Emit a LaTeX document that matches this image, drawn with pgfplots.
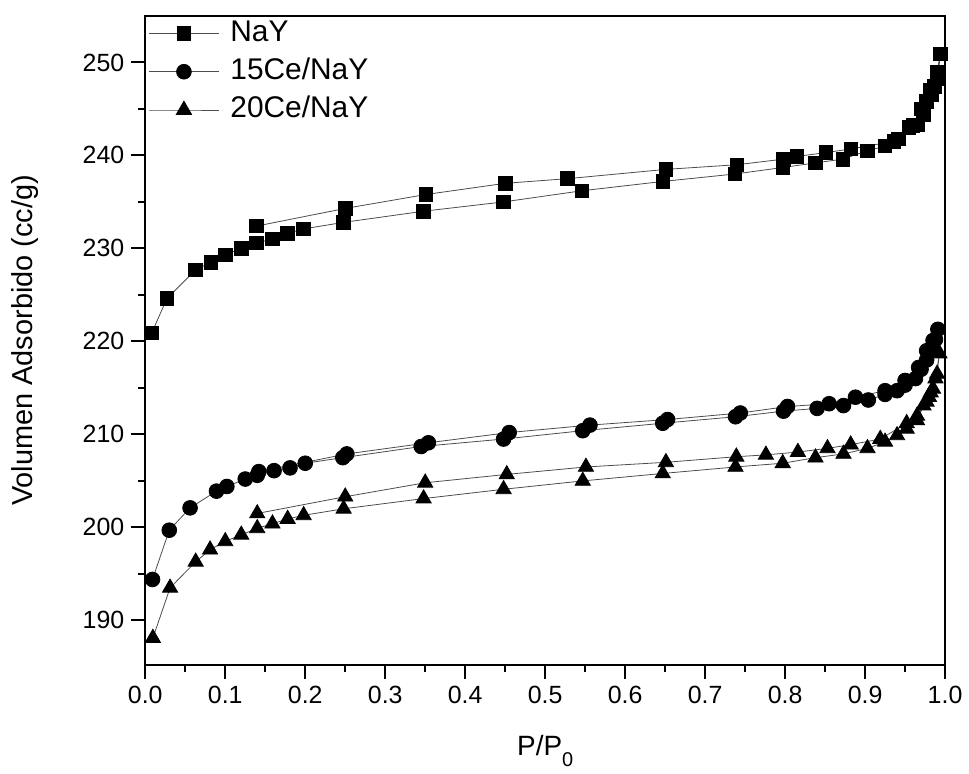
\documentclass[border=0pt]{standalone}
\usepackage{fontspec}
\setmainfont{Liberation Sans}
\usepackage{pgfplots}
\pgfplotsset{compat=1.18}
\begin{document}
\begin{tikzpicture}
\begin{axis}[
  scale only axis, width=401.3pt, height=325.7pt,
  xmin=0, xmax=1, ymin=185.2, ymax=255,
  xtick={0,0.1,0.2,0.3,0.4,0.5,0.6,0.7,0.8,0.9,1.0},
  ytick={190,200,210,220,230,240,250},
  minor x tick num=1, minor y tick num=1,
  tick align=outside, xtick pos=left, ytick pos=left,
  major tick length=7pt, minor tick length=3.5pt,
  axis line style={line width=1pt},
  every tick/.style={line width=1pt, black},
  /pgf/number format/assume math mode=true,
  x tick label style={/pgf/number format/.cd, fixed, fixed zerofill, precision=1},
  tick label style={font=\fontsize{12.5}{15}\selectfont},
  xlabel={P/P\raisebox{-0.75ex}{\fontsize{10}{10}\selectfont 0}},
  ylabel={Volumen Adsorbido (cc/g)},
  xlabel style={at={(axis description cs:0.5,0)}, anchor=base, yshift=-45.5pt, font=\fontsize{14}{16}\selectfont},
  ylabel style={at={(axis description cs:-0.15,0.5)}, anchor=center, rotate=0, font=\fontsize{14.5}{16}\selectfont},
  legend style={at={(axis description cs:0,1)}, xshift=1.5pt, anchor=north west, draw=none, fill=none,
    inner sep=0pt, font=\fontsize{15}{18}\selectfont, row sep=2pt,
    nodes={text height=11pt, text depth=3pt, inner sep=1.6pt}},
  legend cell align=left,
  legend image code/.code={\draw[mark repeat=2,mark phase=2] plot coordinates {(0pt,0pt) (17.5pt,0pt) (35pt,0pt)};},
  every axis plot/.append style={line width=0.4pt, black!70, mark options={solid, fill=black, draw=black}},
]
\addplot[mark=square*, mark size=3.4pt] coordinates {
(0.008,220.9) (0.027,224.6) (0.063,227.7) (0.082,228.5) (0.100,229.3) (0.120,230.0)
(0.139,230.6) (0.159,231.0) (0.178,231.6) (0.198,232.1) (0.248,232.8) (0.348,234.0)
(0.448,235.0) (0.546,236.2) (0.647,237.2) (0.737,238.0) (0.797,238.7) (0.838,239.2)
(0.872,239.6) (0.903,240.5) (0.925,241.0) (0.942,241.8) (0.955,243.0) (0.966,243.3)
(0.973,244.4) (0.977,245.8) (0.983,246.5) (0.987,247.4) (0.991,248.3) (0.994,250.9)
(0.990,249.0) (0.982,247.0) (0.970,245.0) (0.960,243.2) (0.936,241.5) (0.882,240.7)
(0.851,240.3) (0.815,239.9) (0.798,239.6) (0.740,239.0) (0.651,238.5) (0.528,237.5)
(0.450,237.0) (0.351,235.8) (0.250,234.3) (0.139,232.4)
};
\addlegendentry{\hspace{4pt}NaY}
\addplot[mark=*, mark size=3.7pt] coordinates {
(0.009,194.4) (0.030,199.7) (0.056,202.1) (0.089,203.9) (0.102,204.4) (0.125,205.2)
(0.140,205.6) (0.161,206.1) (0.181,206.4) (0.200,206.9) (0.247,207.5) (0.345,208.7)
(0.448,209.5) (0.547,210.4) (0.647,211.2) (0.738,211.9) (0.798,212.5) (0.840,212.8)
(0.873,213.1) (0.904,213.7) (0.925,214.3) (0.940,214.7) (0.950,215.3) (0.963,216.0)
(0.970,217.0) (0.977,218.0) (0.983,219.2) (0.988,220.2) (0.991,221.3)
(0.985,220.1) (0.977,219.0) (0.967,217.2) (0.950,215.8) (0.925,214.7) (0.888,214.0)
(0.855,213.3) (0.803,213.0) (0.744,212.3) (0.653,211.6) (0.556,211.0) (0.455,210.2)
(0.354,209.1) (0.252,207.9) (0.142,206.0)
};
\addlegendentry{\hspace{4pt}15Ce/NaY}
\addplot[mark=triangle*, mark size=4.4pt] coordinates {
(0.0095,188.1) (0.031,193.5) (0.063,196.3) (0.081,197.6) (0.100,198.5) (0.120,199.2)
(0.140,199.9) (0.159,200.4) (0.178,200.9) (0.198,201.3) (0.248,202.0) (0.348,203.1)
(0.448,204.1) (0.547,205.0) (0.647,205.8) (0.738,206.5) (0.797,206.9) (0.838,207.5)
(0.873,207.9) (0.903,208.5) (0.925,209.2) (0.940,209.9) (0.952,210.6) (0.965,211.5)
(0.973,213.1) (0.980,214.0) (0.985,214.9) (0.990,216.5) (0.993,218.7)
(0.988,216.0) (0.982,214.5) (0.977,213.5) (0.965,212.0) (0.952,211.2) (0.919,209.5)
(0.882,208.9) (0.853,208.5) (0.816,208.1) (0.776,207.8) (0.739,207.6) (0.651,207.0)
(0.551,206.5) (0.452,205.7) (0.350,204.8) (0.250,203.3) (0.140,201.5)
};
\addlegendentry{\hspace{4pt}20Ce/NaY}
\end{axis}
\path (current axis.south west) ++(-72.9pt,-51.9pt) coordinate (bbA);
\path (current axis.north east) ++(10.3pt,8pt) coordinate (bbB);
\path (bbA) rectangle (bbB);
\end{tikzpicture}
\end{document}
